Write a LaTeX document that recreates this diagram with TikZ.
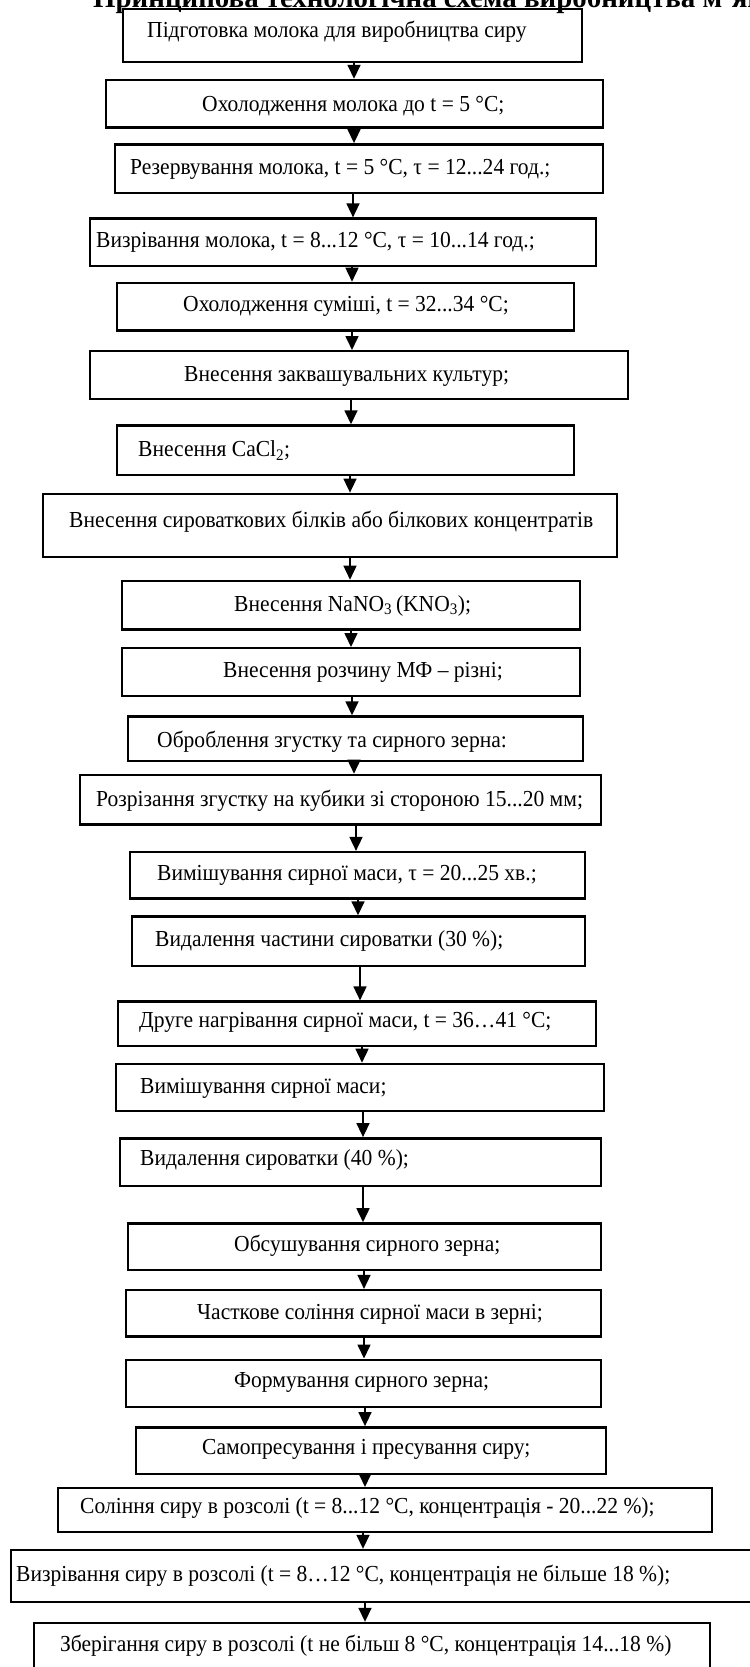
\documentclass[tikz,border=0pt]{standalone}
\usepackage{fontspec}
\setmainfont{Liberation Serif}
\newfontfamily\boxfont[FakeStretch=0.94]{Liberation Serif}
\usetikzlibrary{arrows.meta,fit}
\newcommand\mybox[8]{%
  \node[stepbox, fit={(#2,#3) (#4,#5)}] (b#1) {};
  \node[lbl] (t#1) at (#6,#7) {#8};}
\newcommand\link[3]{%
  \coordinate (a#1) at (#3,0);
  \draw[arr] (b#1.south -| a#1) -- (b#2.north -| a#1);}
\begin{document}
\begin{tikzpicture}[x=1bp,y=-1bp,
  stepbox/.style={draw, line width=2.4bp, inner sep=0pt},
  lbl/.style={anchor=west, inner sep=0pt, font=\boxfont\fontsize{23}{26}\selectfont},
  arr/.style={line width=1.6bp, -{Triangle[width=13bp,length=14bp]}}]
\useasboundingbox (0,0) rectangle (750,1667);
\clip (0,0) rectangle (750,1667);
\node[anchor=base west, inner sep=0pt, font=\bfseries\fontsize{29}{32}\selectfont] (title) at (93,8) {Принципова технологічна схема виробництва м’якого сиру};
\mybox{1}{123}{9}{582}{62}{147}{32}{Підготовка молока для виробництва сиру}
\mybox{2}{106}{80}{603}{127.5}{202}{105.7}{Охолодження молока до t = 5 °C;}
\mybox{3}{115}{144.3}{603}{192.8}{130}{169.1}{Резервування молока, t = 5 °C, τ = 12...24 год.;}
\mybox{4}{90}{218.6}{596}{266.1}{96}{242.3}{Визрівання молока, t = 8...12 °C, τ = 10...14 год.;}
\mybox{5}{117}{282.9}{574}{330.4}{183}{306.7}{Охолодження суміші, t = 32...34 °C;}
\mybox{6}{90}{351.2}{628}{398.7}{184}{376}{Внесення заквашувальних культур;}
\mybox{7}{117}{425.5}{574}{475}{138}{450.2}{Внесення CaCl\textsubscript{2};}
\mybox{8}{43}{493.8}{617}{557.1}{69}{521.5}{Внесення сироваткових білків або білкових концентратів}
\mybox{9}{122}{580.9}{580}{629.4}{234}{605.6}{Внесення NaNO\textsubscript{3}\,(KNO\textsubscript{3});}
\mybox{10}{122}{648.2}{580}{695.7}{223}{671.9}{Внесення розчину МФ – різні;}
\mybox{11}{128}{716.5}{583}{761.1}{157}{741.3}{Оброблення згустку та сирного зерна:}
\mybox{12}{80}{774.9}{601}{824.4}{96}{800.6}{Розрізання згустку на кубики зі стороною 15...20 мм;}
\mybox{13}{130}{852.1}{585}{898.6}{157}{874.9}{Вимішування сирної маси, τ = 20...25 хв.;}
\mybox{14}{132}{916.5}{585}{966}{155}{941.2}{Видалення частини сироватки (30 \%);}
\mybox{15}{118}{1001.6}{596}{1046.1}{139}{1022.4}{Друге нагрівання сирної маси, t = 36…41 °C;}
\mybox{16}{116}{1063.9}{604}{1111.2}{140}{1088}{Вимішування сирної маси;}
\mybox{17}{120}{1138.3}{601}{1185.7}{140}{1159.6}{Видалення сироватки (40 \%);}
\mybox{18}{128}{1223.4}{601}{1269.8}{234}{1245.6}{Обсушування сирного зерна;}
\mybox{19}{126}{1290.1}{601}{1336.5}{197}{1314.2}{Часткове соління сирної маси в зерні;}
\mybox{20}{126}{1359.7}{601}{1407}{234}{1382.9}{Формування сирного зерна;}
\mybox{21}{136}{1427.3}{606}{1473.7}{202}{1449.6}{Самопресування і пресування сиру;}
\mybox{22}{58}{1488.2}{712}{1532}{80}{1508}{Соління сиру в розсолі (t = 8...12 °C, концентрація - 20...22 \%);}
\mybox{23}{11}{1550}{755}{1602}{16}{1576}{Визрівання сиру в розсолі (t = 8…12 °C, концентрація не більше 18 \%);}
\mybox{24}{34}{1623}{710}{1690}{60}{1646}{Зберігання сиру в розсолі (t не більш 8 °C, концентрація 14...18 \%)}
\link{1}{2}{354}
\link{2}{3}{354}
\link{3}{4}{353}
\link{4}{5}{352}
\link{5}{6}{352}
\link{6}{7}{351}
\link{7}{8}{350}
\link{8}{9}{350}
\link{9}{10}{351}
\link{10}{11}{352}
\link{11}{12}{354}
\link{12}{13}{356}
\link{13}{14}{358}
\link{14}{15}{360}
\link{15}{16}{362}
\link{16}{17}{363}
\link{17}{18}{363}
\link{18}{19}{364}
\link{19}{20}{364}
\link{20}{21}{365}
\link{21}{22}{365}
\link{22}{23}{363}
\link{23}{24}{365}
\end{tikzpicture}
\end{document}
